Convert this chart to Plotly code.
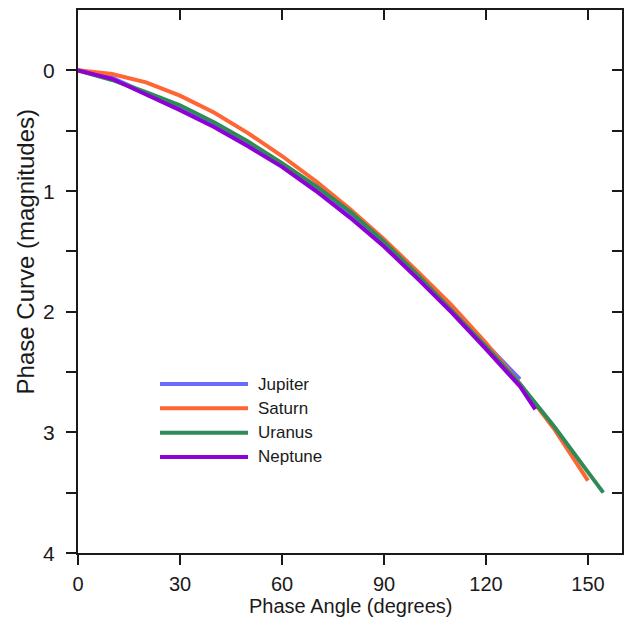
import plotly.graph_objects as go

# ---- data ----
jupiter_angle = [0, 10, 20, 30, 40, 50, 60, 70, 80, 90, 100, 110, 120, 130]
jupiter_mag = [0, 0.06, 0.19, 0.32, 0.46, 0.62, 0.79, 0.99, 1.20, 1.44, 1.70, 1.98, 2.27, 2.56]

saturn_angle = [0, 10, 20, 30, 40, 50, 60, 70, 80, 90, 100, 110, 120, 130, 140, 150]
saturn_mag = [0, 0.03, 0.10, 0.21, 0.35, 0.52, 0.71, 0.92, 1.15, 1.40, 1.67, 1.95, 2.26, 2.60, 2.97, 3.40]

uranus_angle = [0, 10, 20, 30, 40, 50, 60, 70, 80, 90, 100, 110, 120, 130, 140, 150, 154.5]
uranus_mag = [0, 0.08, 0.18, 0.29, 0.43, 0.59, 0.77, 0.96, 1.17, 1.42, 1.70, 1.99, 2.29, 2.60, 2.95, 3.33, 3.50]

neptune_angle = [0, 10, 20, 30, 40, 50, 60, 70, 80, 90, 100, 110, 120, 130, 134.5]
neptune_mag = [0, 0.07, 0.20, 0.33, 0.47, 0.63, 0.80, 1.00, 1.22, 1.46, 1.73, 2.01, 2.31, 2.62, 2.81]

names = ["Jupiter", "Saturn", "Uranus", "Neptune"]
colors = ["#6b6bff", "#ff6633", "#2e8b57", "#8f00d6"]
angles = [jupiter_angle, saturn_angle, uranus_angle, neptune_angle]
mags = [jupiter_mag, saturn_mag, uranus_mag, neptune_mag]

x_ticks = [0, 30, 60, 90, 120, 150]
y_ticks = [0, 0.5, 1, 1.5, 2, 2.5, 3, 3.5, 4]
y_label_vals = [0, 1, 2, 3, 4]
y_label_text = ["0", "1", "2", "3", "4"]

FONT = "Liberation Sans, Arial, sans-serif"

fig = go.Figure()
for n, c, a, m in zip(names, colors, angles, mags):
    fig.add_trace(go.Scatter(x=a, y=m, mode="lines", name=n,
                             line=dict(color=c, width=4), showlegend=False))

# invisible trace to carry the mirrored (inside-tick) axes
fig.add_trace(go.Scatter(x=[None], y=[None], xaxis="x2", yaxis="y2",
                         showlegend=False, hoverinfo="skip"))

axis_common = dict(showgrid=False, zeroline=False, showline=True,
                   linecolor="#1a1a1a", linewidth=2, tickcolor="#1a1a1a",
                   tickwidth=2, ticklen=10)

fig.update_layout(
    width=628, height=626,
    margin=dict(l=78, r=6, t=10, b=73),
    paper_bgcolor="white", plot_bgcolor="white",
    font=dict(family=FONT, color="#1a1a1a"),
    xaxis=dict(range=[0, 160], tickvals=x_ticks, ticks="outside",
               tickfont=dict(size=20), ticklabelstandoff=2, **axis_common),
    yaxis=dict(range=[4, -0.5], tickvals=y_ticks, showticklabels=False,
               ticks="outside", **axis_common),
    xaxis2=dict(range=[0, 160], overlaying="x", side="top", tickvals=x_ticks,
                ticks="inside", showticklabels=False, **axis_common),
    yaxis2=dict(range=[4, -0.5], overlaying="y", side="right", tickvals=y_ticks,
                ticks="inside", showticklabels=False, **axis_common),
)

# y tick labels placed on the y scale, clear of the outside ticks
for v, t in zip(y_label_vals, y_label_text):
    fig.add_annotation(text=t, xref="paper", yref="y", x=-0.0386, y=v,
                       xanchor="right", yanchor="middle", showarrow=False,
                       font=dict(size=21, family=FONT, color="#1a1a1a"))

# axis titles
fig.add_annotation(text="Phase Angle (degrees)", xref="paper", yref="paper",
                   x=0.5, y=-0.097, showarrow=False, yanchor="middle",
                   font=dict(size=20, family=FONT, color="#1a1a1a"))
fig.add_annotation(text="Phase Curve (magnitudes)", xref="paper", yref="paper",
                   x=-0.097, y=0.554, showarrow=False, textangle=-90,
                   xanchor="center", yanchor="middle",
                   font=dict(size=24, family=FONT, color="#1a1a1a"))

# legend (drawn manually to get the long line samples)
leg_x0, leg_x1, leg_tx = 0.1507, 0.3125, 0.327
leg_y0, leg_dy = 0.3112, 0.0448
for i, (n, c) in enumerate(zip(names, colors)):
    yy = leg_y0 - i * leg_dy
    fig.add_shape(type="line", xref="paper", yref="paper",
                  x0=leg_x0, x1=leg_x1, y0=yy, y1=yy,
                  line=dict(color=c, width=4))
    fig.add_annotation(text=n, xref="paper", yref="paper", x=leg_tx, y=yy,
                       xanchor="left", yanchor="middle", showarrow=False,
                       font=dict(size=17, family=FONT, color="#1a1a1a"))

fig.write_html("out.html", config={"displayModeBar": False},
               post_script="document.body.style.margin='0';document.body.style.padding='0';")
